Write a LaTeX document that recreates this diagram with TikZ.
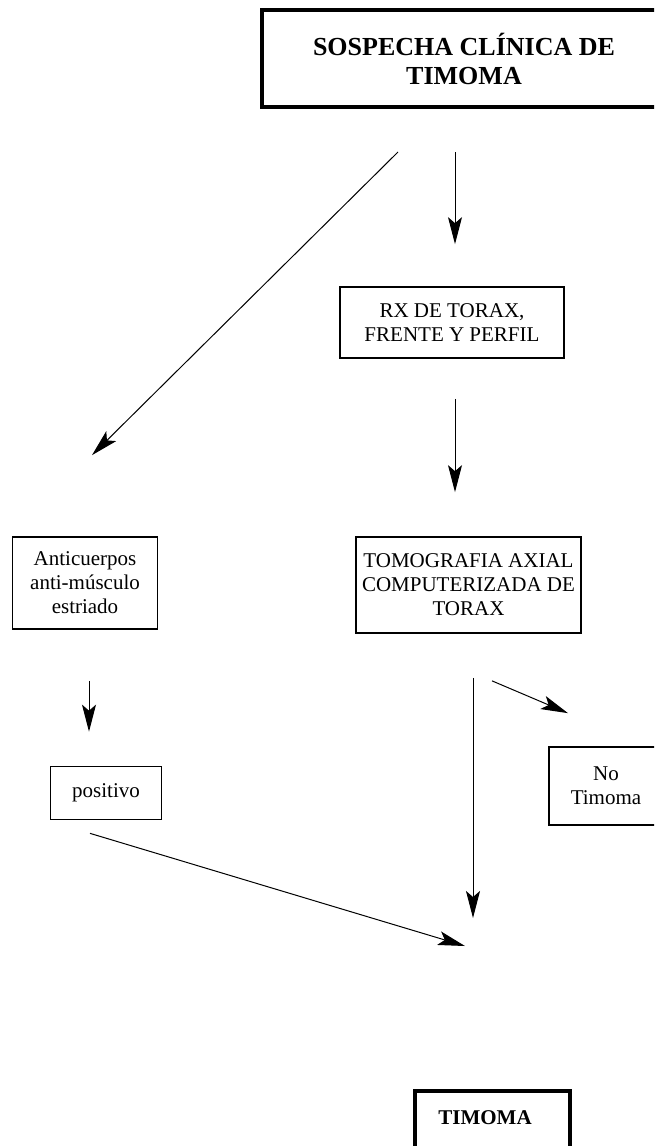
\documentclass[tikz,border=0pt]{standalone}
\usepackage{fontspec}
\setmainfont{Liberation Serif}
\usetikzlibrary{arrows.meta,calc}
\tikzset{
  box/.style={draw, line width=0.85pt, align=center, inner sep=0pt,
              font=\fontsize{10.5}{12}\selectfont},
  thickbox/.style={box, line width=2pt, font=\fontsize{13}{14.5}\selectfont\bfseries},
  arrow/.style={-{Stealth[length=13.5pt,width=7pt,inset=3pt]}, line width=0.5pt},
}
\begin{document}
\begin{tikzpicture}[x=0.5pt,y=-0.5pt]
  \clip (0,0) rectangle (654,1146);
  \node[thickbox, minimum width=202pt, minimum height=48.5pt] (sospecha) at (464,58.5) {SOSPECHA CLÍNICA DE\\TIMOMA};
  \node[box, minimum width=112pt, minimum height=35.5pt] (rx) at (452,322.5) {RX DE TORAX,\\FRENTE Y PERFIL};
  \node[box, minimum width=112.5pt, minimum height=48pt] (tac) at (468.5,585) {TOMOGRAFIA AXIAL\\COMPUTERIZADA DE\\TORAX};
  \node[box, minimum width=72.5pt, minimum height=46pt] (anti) at (85,583) {Anticuerpos\\anti-músculo\\estriado};
  \node[box, minimum width=55.5pt, minimum height=26.5pt] (pos) at (106,793) {positivo};
  \node[box, minimum width=57pt, minimum height=39pt] (no) at (606,786) {No\\Timoma};
  \node[thickbox, font=\fontsize{10.5}{12}\selectfont\bfseries, anchor=north,
        minimum width=77.5pt, text height=16.5pt, text depth=35pt] (timoma) at (492,1089) {TIMOMA\hspace*{7pt}};

  \draw[arrow] ($(sospecha.south)+(-66,43)$) -- ($(anti.north)+(7,-81)$);
  \draw[arrow] ($(sospecha.south)+(-9,43)$) -- ($(rx.north)+(3,-42)$);
  \draw[arrow] ($(rx.south)+(3,40)$) -- ($(tac.north)+(-13.5,-44)$);
  \draw[arrow] ($(anti.south)+(4,51)$) -- ($(pos.north)+(-17,-34)$);
  \draw[arrow] ($(tac.south)+(4.5,44)$) -- ($(timoma.north)+(-19,-171)$);
  \draw[arrow] ($(tac.south)+(23.5,47)$) -- ($(no.north)+(-38,-33)$);
  \draw[arrow] ($(pos.south)+(-16,13)$) -- ($(timoma.north)+(-27,-143)$);
\end{tikzpicture}
\end{document}
